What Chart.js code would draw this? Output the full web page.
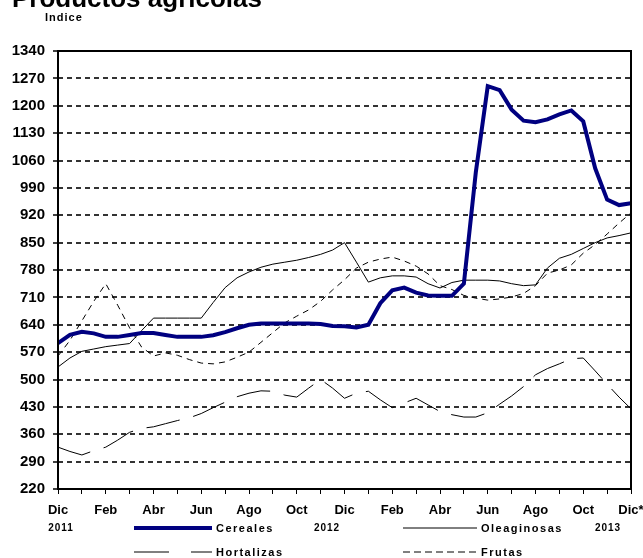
<!DOCTYPE html>
<html>
<head>
<meta charset="utf-8">
<script src="https://cdn.jsdelivr.net/npm/chart.js@4/dist/chart.umd.min.js"></script>
<style>
  body { margin: 0; background: #fff; }
  #grafico { display: block; }
</style>
</head>
<body>
<canvas id="grafico" width="643" height="558"></canvas>
<script>
// Etiquetas del eje X (cada dos meses, Dic 2011 - Dic 2013)
const etiquetasMeses = ['Dic', 'Feb', 'Abr', 'Jun', 'Ago', 'Oct', 'Dic', 'Feb', 'Abr', 'Jun', 'Ago', 'Oct', 'Dic*'];
const etiquetasAnios = ['2011', '2012', '2013'];

// Indices quincenales (49 valores, desde Dic 2011 hasta Dic 2013)
const cereales = [593, 614, 622, 618, 609, 609, 614, 619, 619, 614, 609, 609, 609, 613, 621, 631,
  640, 643, 643, 643, 643, 643, 642, 637, 636, 633, 640, 695, 728, 735, 722, 715,
  714, 714, 745, 1030, 1250, 1240, 1190, 1162, 1158, 1165, 1178, 1188, 1160, 1040, 960, 946, 951];
const oleaginosas = [532, 555, 572, 578, 584, 588, 592, 625, 657, 657, 657, 657, 657, 697, 735, 760,
  775, 787, 795, 800, 805, 812, 820, 831, 850, 800, 749, 760, 765, 765, 762, 745,
  734, 748, 754, 754, 754, 752, 745, 740, 742, 785, 810, 820, 835, 850, 862, 868, 875];
const hortalizas = [327, 316, 307, 318, 327, 345, 365, 375, 379, 387, 395, 402, 413, 428, 442, 456,
  465, 471, 470, 460, 455, 478, 500, 478, 452, 465, 470, 448, 428, 440, 452, 435,
  418, 410, 404, 404, 415, 437, 458, 482, 512, 528, 540, 553, 555, 522, 488, 455, 425];
const frutas = [560, 600, 650, 700, 745, 690, 632, 583, 560, 568, 562, 551, 542, 540, 545, 557,
  570, 595, 620, 645, 662, 678, 700, 729, 755, 785, 800, 808, 813, 803, 790, 770,
  740, 730, 715, 708, 703, 706, 711, 720, 740, 772, 780, 793, 823, 845, 872, 900, 926];

const puntos = arr => arr.map((v, i) => ({ x: i / 2, y: v }));
const fuente = 'Liberation Sans, Arial, sans-serif';

// Titulo, marco, años y leyenda dibujados a mano
const extras = {
  id: 'extras',
  afterDraw(chart) {
    const ctx = chart.ctx;
    const a = chart.chartArea;
    ctx.save();
    ctx.strokeStyle = '#000';
    ctx.lineWidth = 2;
    ctx.setLineDash([]);
    ctx.strokeRect(a.left, a.top, a.right - a.left, a.bottom - a.top);

    ctx.fillStyle = '#000';
    ctx.textBaseline = 'alphabetic';
    ctx.textAlign = 'left';
    ctx.font = 'bold 26px ' + fuente;
    ctx.fillText('Productos agrícolas', 12, 7);
    ctx.font = 'bold 11px ' + fuente;
    ctx.letterSpacing = '1px';
    ctx.fillText('Indice', 45, 21);

    // años bajo el eje
    ctx.textAlign = 'center';
    ctx.font = 'bold 10px ' + fuente;
    const xsAnio = [61, 327, 608];
    etiquetasAnios.forEach((t, i) => ctx.fillText(t, xsAnio[i], 531));

    // leyenda 2x2
    const pos = [[134, 212, 528], [403, 477, 528], [134, 212, 552], [403, 477, 552]];
    ctx.textAlign = 'left';
    ctx.textBaseline = 'middle';
    ctx.font = 'bold 11px ' + fuente;
    ctx.letterSpacing = '1.5px';
    chart.data.datasets.forEach((ds, i) => {
      const [x1, x2, y] = pos[i];
      ctx.beginPath();
      ctx.strokeStyle = ds.borderColor;
      ctx.lineWidth = ds.borderWidth;
      ctx.setLineDash(ds.legendDash || []);
      ctx.moveTo(x1, y);
      ctx.lineTo(x2, y);
      ctx.stroke();
      ctx.fillText(ds.label, x2 + 4, y + 1);
    });
    ctx.restore();
  }
};

new Chart(document.getElementById('grafico'), {
  type: 'line',
  data: {
    datasets: [{
      label: 'Cereales',
      data: puntos(cereales),
      borderColor: '#000080',
      borderWidth: 4,
      pointRadius: 0,
      tension: 0
    }, {
      label: 'Oleaginosas',
      data: puntos(oleaginosas),
      borderColor: '#000',
      borderWidth: 1,
      pointRadius: 0,
      tension: 0
    }, {
      label: 'Hortalizas',
      data: puntos(hortalizas),
      borderColor: '#000',
      borderWidth: 1,
      borderDash: [34, 14],
      legendDash: [35, 22],
      pointRadius: 0,
      tension: 0
    }, {
      label: 'Frutas',
      data: puntos(frutas),
      borderColor: '#000',
      borderWidth: 1,
      borderDash: [6, 5],
      legendDash: [7, 4],
      pointRadius: 0,
      tension: 0
    }]
  },
  options: {
    responsive: false,
    animation: false,
    devicePixelRatio: 1,
    layout: { padding: { top: 51, right: 12, left: 0, bottom: 0 } },
    plugins: { legend: { display: false }, tooltip: { enabled: false } },
    scales: {
      x: {
        type: 'linear',
        min: 0,
        max: 24,
        afterFit: s => { s.height = 69; s.paddingLeft = 0; s.paddingRight = 0; },
        grid: { drawOnChartArea: false, drawTicks: true, tickLength: 5, color: '#000', lineWidth: 1 },
        border: { display: false },
        ticks: {
          stepSize: 1,
          autoSkip: false,
          maxRotation: 0,
          padding: 9,
          color: '#000',
          font: { family: fuente, size: 13, weight: 'bold' },
          callback: v => (v % 2 === 0 ? etiquetasMeses[v / 2] : '')
        }
      },
      y: {
        min: 220,
        max: 1340,
        afterFit: s => { s.width = 58; s.paddingTop = 0; s.paddingBottom = 0; },
        grid: { color: '#333', lineWidth: 2, tickLength: 5, tickColor: '#000', tickWidth: 1.5 },
        border: { display: false, dash: [5, 4] },
        ticks: {
          stepSize: 70,
          padding: 8,
          color: '#000',
          font: { family: fuente, size: 15, weight: 'bold' },
          callback: v => String(v)
        }
      }
    }
  },
  plugins: [extras]
});
</script>
</body>
</html>
